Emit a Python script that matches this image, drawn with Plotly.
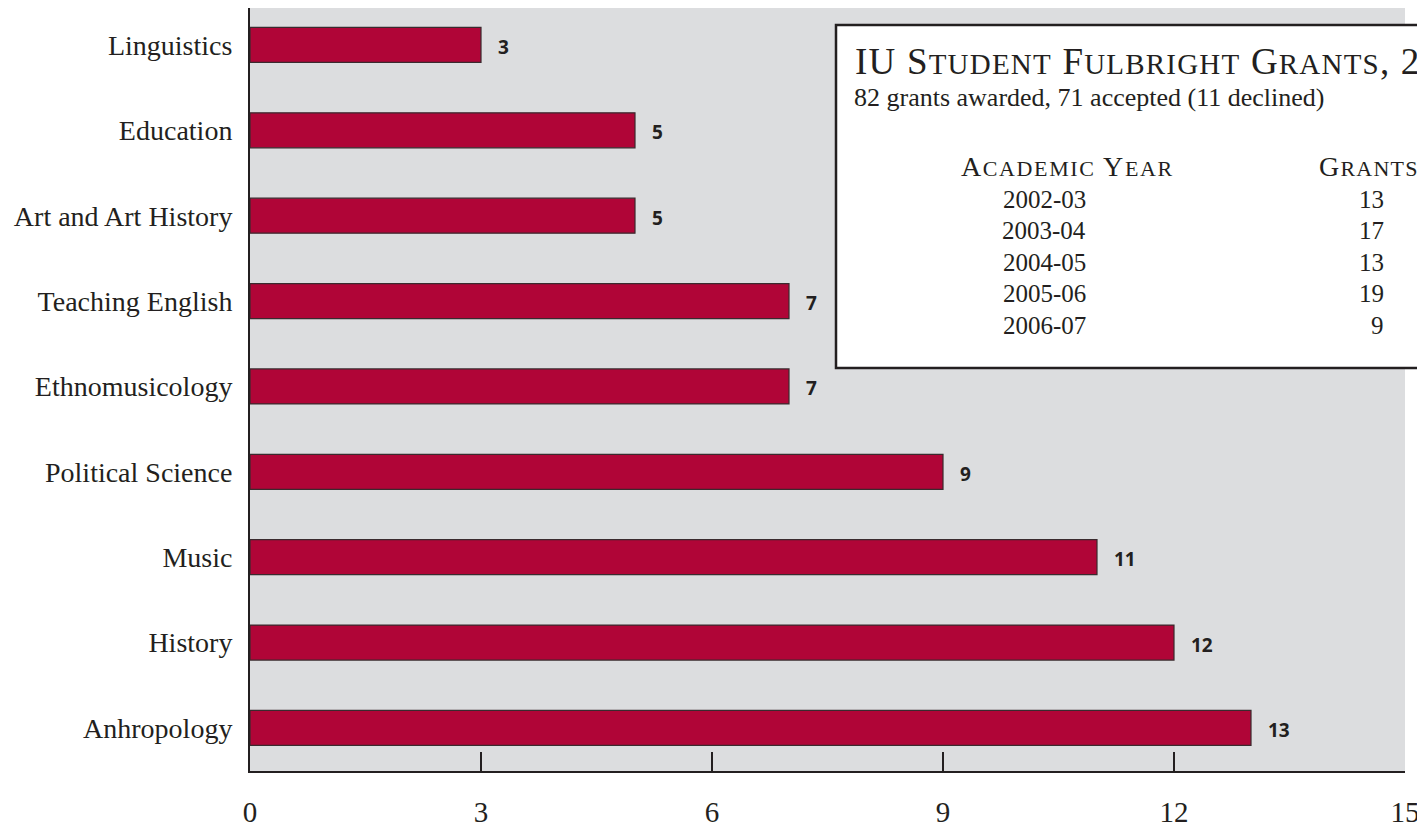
import plotly.graph_objects as go

# ---- data ----
departments = ["Anhropology", "History", "Music", "Political Science", "Ethnomusicology",
               "Teaching English", "Art and Art History", "Education", "Linguistics"]
grants = [13, 12, 11, 9, 7, 7, 5, 5, 3]
x_ticks = [0, 3, 6, 9, 12, 15]

years = ["2002-03", "2003-04", "2004-05", "2005-06", "2006-07"]
grants_by_year = [13, 17, 13, 19, 9]

title_text = "IU Student Fulbright Grants, 2002-07"
subtitle_text = "82 grants awarded, 71 accepted (11 declined)"

SERIF = "Liberation Serif"
BAR = "#B00537"
BG = "#DCDDDF"
INK = "#231f20"


def small_caps(s, big, small, spacing=0):
    out = []
    ls = f"letter-spacing:{spacing}px;" if spacing else ""
    for ch in s:
        if ch.isupper():
            out.append(f"<span style='font-size:{big}px;{ls}'>{ch}</span>")
        elif ch.isalpha():
            out.append(f"<span style='font-size:{small}px;{ls}'>{ch.upper()}</span>")
        else:
            out.append(f"<span style='font-size:{big}px;{ls}'>{ch}</span>")
    return "".join(out)


# page offset (body margin 8px)
OFF = 8
W, H = 1425 - OFF, 829 - OFF
PL, PR, PT, PB = 250, 1405, 8, 771          # plot area in page pixels
L, R, T, B = PL - OFF, W - (PR - OFF), PT - OFF, H - (PB - OFF)
pw, ph = W - L - R, H - T - B


def px(xp):
    return (xp - PL) / pw


def py(yp):
    return 1 - (yp - PT) / ph


fig = go.Figure()
fig.add_trace(go.Bar(
    x=grants, y=departments, orientation="h", width=0.41,
    marker=dict(color=BAR, line=dict(color="#3a2a2e", width=1.2)),
    hoverinfo="skip",
))

annotations = []
for d, g in zip(departments, grants):
    annotations.append(dict(
        x=g, y=d, xref="x", yref="y", text=str(g), showarrow=False,
        xanchor="left", yanchor="middle", xshift=15, yshift=-2,
        font=dict(family="Open Sans", size=19, color=INK, weight="bold"),
    ))

annotations.append(dict(
    x=px(853), y=py(61), xref="paper", yref="paper", xanchor="left", yanchor="middle",
    text=small_caps(title_text, 37, 29, 1.2), showarrow=False,
    font=dict(family=SERIF, size=29, color=INK),
))
annotations.append(dict(
    x=px(852), y=py(97), xref="paper", yref="paper", xanchor="left", yanchor="middle",
    text=subtitle_text, showarrow=False,
    font=dict(family=SERIF, size=26, color=INK),
))
annotations.append(dict(
    x=px(1067), y=py(166), xref="paper", yref="paper", xanchor="center", yanchor="middle",
    text=small_caps("Academic Year", 28, 22, 1.6), showarrow=False,
    font=dict(family=SERIF, size=22, color=INK),
))
annotations.append(dict(
    x=px(1317), y=py(166), xref="paper", yref="paper", xanchor="left", yanchor="middle",
    text=small_caps("Grants", 28, 22, 1.2), showarrow=False,
    font=dict(family=SERIF, size=22, color=INK),
))
for i, (yr, gv) in enumerate(zip(years, grants_by_year)):
    yy = 199 + 31.5 * i
    annotations.append(dict(
        x=px(1044), y=py(yy), xref="paper", yref="paper", xanchor="center", yanchor="middle",
        text=yr, showarrow=False, font=dict(family=SERIF, size=25, color=INK),
    ))
    annotations.append(dict(
        x=px(1386), y=py(yy), xref="paper", yref="paper", xanchor="right", yanchor="middle",
        text=str(gv), showarrow=False, font=dict(family=SERIF, size=25, color=INK),
    ))

shapes = [dict(
    type="rect", xref="paper", yref="paper",
    x0=px(836), x1=px(1500), y0=py(368), y1=py(25),
    fillcolor="white", line=dict(color=INK, width=2.5), layer="above",
)]

fig.update_layout(
    width=W, height=H,
    margin=dict(l=L, r=R, t=T, b=B, pad=0),
    paper_bgcolor="white", plot_bgcolor=BG,
    showlegend=False,
    annotations=annotations,
    shapes=shapes,
    xaxis=dict(
        range=[0, 15], tickvals=x_ticks, ticktext=[str(v) for v in x_ticks],
        showgrid=False, zeroline=False,
        showline=True, linecolor=INK, linewidth=2,
        ticks="inside", ticklen=19, tickwidth=2, tickcolor=INK,
        tickfont=dict(family=SERIF, size=29, color=INK),
        ticklabelstandoff=14,
    ),
    yaxis=dict(
        type="category", categoryorder="array", categoryarray=departments,
        range=[-0.504, 8.433],
        showgrid=False, zeroline=False,
        showline=True, linecolor=INK, linewidth=2,
        ticks="", tickfont=dict(family=SERIF, size=28, color=INK),
        ticklabelstandoff=10,
    ),
)

fig.write_html("out.html")
